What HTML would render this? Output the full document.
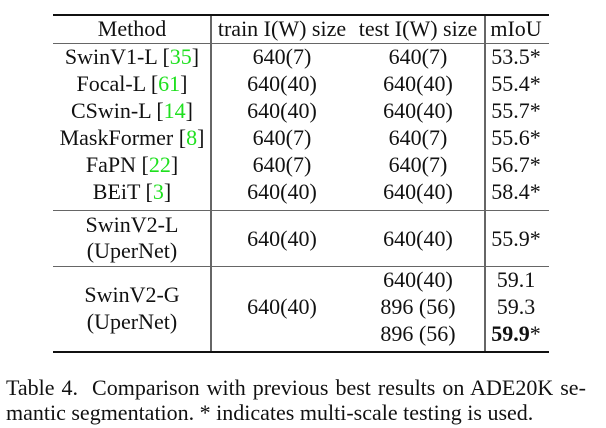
<!DOCTYPE html>
<html><head><style>
body{margin:0;width:606px;height:428px;background:#fff;position:relative;font-family:"Liberation Serif",serif;color:#111;overflow:hidden}
.t{position:absolute;font-size:22px;line-height:22px;white-space:nowrap;transform:translate(-50%,-50%)}
.h{position:absolute;background:#111}
.g{color:#1ee01e}
.c{position:absolute;left:6px;font-size:22px;line-height:22px;white-space:nowrap}
</style></head><body>
<div class="h" style="left:53px;top:14px;width:496px;height:2px"></div>
<div class="h" style="left:53px;top:43px;width:496px;height:1px;background:#666"></div>
<div class="h" style="left:53px;top:210px;width:496px;height:1px;background:#666"></div>
<div class="h" style="left:53px;top:266px;width:496px;height:1px;background:#666"></div>
<div class="h" style="left:53px;top:351px;width:496px;height:2px"></div>
<div class="h" style="left:210px;top:16px;width:2px;height:335px;background:#666"></div>
<div class="h" style="left:484px;top:16px;width:2px;height:335px;background:#666"></div>

<div class="t" style="left:132px;top:29px">Method</div>
<div class="t" style="left:282px;top:29px">train I(W) size</div>
<div class="t" style="left:418px;top:29px">test I(W) size</div>
<div class="t" style="left:516px;top:29px">mIoU</div>

<div class="t" style="left:132px;top:57px">SwinV1-L [<span class="g">35</span>]</div>
<div class="t" style="left:282px;top:57px">640(7)</div>
<div class="t" style="left:418px;top:57px">640(7)</div>
<div class="t" style="left:516px;top:57px">53.5*</div>

<div class="t" style="left:132px;top:84px">Focal-L [<span class="g">61</span>]</div>
<div class="t" style="left:282px;top:84px">640(40)</div>
<div class="t" style="left:418px;top:84px">640(40)</div>
<div class="t" style="left:516px;top:84px">55.4*</div>

<div class="t" style="left:132px;top:111px">CSwin-L [<span class="g">14</span>]</div>
<div class="t" style="left:282px;top:111px">640(40)</div>
<div class="t" style="left:418px;top:111px">640(40)</div>
<div class="t" style="left:516px;top:111px">55.7*</div>

<div class="t" style="left:132px;top:138px">MaskFormer [<span class="g">8</span>]</div>
<div class="t" style="left:282px;top:138px">640(7)</div>
<div class="t" style="left:418px;top:138px">640(7)</div>
<div class="t" style="left:516px;top:138px">55.6*</div>

<div class="t" style="left:132px;top:165px">FaPN [<span class="g">22</span>]</div>
<div class="t" style="left:282px;top:165px">640(7)</div>
<div class="t" style="left:418px;top:165px">640(7)</div>
<div class="t" style="left:516px;top:165px">56.7*</div>

<div class="t" style="left:132px;top:192px">BEiT [<span class="g">3</span>]</div>
<div class="t" style="left:282px;top:192px">640(40)</div>
<div class="t" style="left:418px;top:192px">640(40)</div>
<div class="t" style="left:516px;top:192px">58.4*</div>

<div class="t" style="left:132px;top:225px">SwinV2-L</div>
<div class="t" style="left:132px;top:251px">(UperNet)</div>
<div class="t" style="left:282px;top:239px">640(40)</div>
<div class="t" style="left:418px;top:239px">640(40)</div>
<div class="t" style="left:516px;top:239px">55.9*</div>

<div class="t" style="left:132px;top:295px">SwinV2-G</div>
<div class="t" style="left:132px;top:322px">(UperNet)</div>
<div class="t" style="left:282px;top:307px">640(40)</div>
<div class="t" style="left:418px;top:280px">640(40)</div>
<div class="t" style="left:418px;top:307px">896 (56)</div>
<div class="t" style="left:418px;top:334px">896 (56)</div>
<div class="t" style="left:516px;top:280px">59.1</div>
<div class="t" style="left:516px;top:307px">59.3</div>
<div class="t" style="left:516px;top:334px"><b>59.9</b>*</div>

<div class="c" style="top:377px;word-spacing:1.5px">Table 4.&nbsp; Comparison with previous best results on ADE20K se-</div>
<div class="c" style="top:402px">mantic segmentation. * indicates multi-scale testing is used.</div>
</body></html>
